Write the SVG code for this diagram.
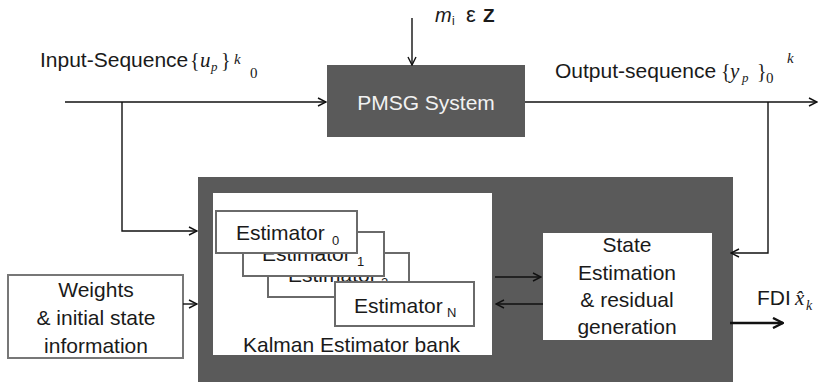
<svg xmlns="http://www.w3.org/2000/svg" width="818" height="385" viewBox="0 0 818 385">
  <style>
    .lbl { font-family: "Liberation Sans", Arial, sans-serif; font-size: 21px; fill: #1a1a1a; }
    .sub { font-size: 13px; }
    .mid { text-anchor: middle; }
    .math { font-family: "Liberation Serif", "Times New Roman", serif; fill: #1a1a1a; }
    .it { font-style: italic; }
    .wire { fill: none; stroke: #111; stroke-width: 1.4; }
    .block { fill: #5a5a5a; }
    .card { fill: #fff; stroke: #6a6a6a; stroke-width: 2; }
    .panel { fill: #fff; }
  </style>
  <defs>
    <marker id="arr" viewBox="0 0 10 10" refX="9" refY="5" markerWidth="10" markerHeight="10" markerUnits="userSpaceOnUse" orient="auto">
      <path d="M1,1 L9,5 L1,9" fill="none" stroke="#111" stroke-width="1.4"/>
    </marker>
    <marker id="arrBold" viewBox="0 0 12 12" refX="11" refY="6" markerWidth="12" markerHeight="12" markerUnits="userSpaceOnUse" orient="auto">
      <path d="M1,1 L11,6 L1,11" fill="none" stroke="#111" stroke-width="2.4"/>
    </marker>
  </defs>

  <rect width="818" height="385" fill="#fff"/>

  <!-- PMSG plant -->
  <g id="pmsg">
    <rect class="block" x="327" y="65" width="198" height="72"/>
    <text class="lbl mid" x="426" y="110" style="fill:#f2f2f2">PMSG System</text>
  </g>

  <!-- fault mode input label -->
  <g id="mode-label">
    <text class="lbl it" x="435" y="22" style="font-size:20px">m</text>
    <text class="lbl" x="452" y="25" style="font-size:12px">i</text>
    <text class="lbl" x="466" y="22" style="font-size:22px">ε</text>
    <text class="lbl" x="483" y="22" style="font-size:19px;font-weight:bold">Z</text>
  </g>

  <!-- input sequence label -->
  <g id="input-label">
    <text class="lbl" x="40" y="67">Input-Sequence</text>
    <text class="math" x="190" y="67" font-size="20">{</text>
    <text class="math it" x="200" y="67" font-size="21">u</text>
    <text class="math it" x="211" y="71" font-size="13">p</text>
    <text class="math" x="221" y="67" font-size="20">}</text>
    <text class="math it" x="234" y="64" font-size="15">k</text>
    <text class="math" x="250" y="78" font-size="15">0</text>
  </g>

  <!-- output sequence label -->
  <g id="output-label">
    <text class="lbl" x="555" y="78">Output-sequence</text>
    <text class="math" x="721" y="78" font-size="20">{</text>
    <text class="math it" x="730" y="78" font-size="21">y</text>
    <text class="math it" x="742" y="82" font-size="13">p</text>
    <text class="math" x="757" y="78" font-size="20">}</text>
    <text class="math" x="766" y="83" font-size="15">0</text>
    <text class="math it" x="787" y="63" font-size="15">k</text>
  </g>

  <!-- fault detection unit -->
  <g id="fdi-unit">
    <rect class="block" x="198" y="177" width="535" height="205"/>
  </g>

  <!-- Kalman estimator bank -->
  <g id="estimator-bank">
    <rect class="panel" x="213" y="193" width="279" height="162"/>
    <g id="estimator-2">
      <rect class="card" x="268" y="253" width="141" height="44"/>
      <text class="lbl" x="288" y="282">Estimator</text>
      <text class="lbl sub" x="381" y="287" style="font-size:13px">2</text>
    </g>
    <g id="estimator-n">
      <rect class="card" x="335" y="282" width="139" height="44"/>
      <text class="lbl" x="354" y="313">Estimator</text>
      <text class="lbl sub" x="447" y="317" style="font-size:13px">N</text>
    </g>
    <g id="estimator-1">
      <rect class="card" x="243" y="232" width="141" height="44"/>
      <text class="lbl" x="262" y="261">Estimator</text>
      <text class="lbl sub" x="357" y="266" style="font-size:13px">1</text>
    </g>
    <g id="estimator-0">
      <rect class="card" x="216" y="211" width="141" height="42"/>
      <text class="lbl" x="236" y="240">Estimator</text>
      <text class="lbl sub" x="332" y="245" style="font-size:13px">0</text>
    </g>
    <text class="lbl" x="243" y="352">Kalman Estimator bank</text>
  </g>

  <!-- state estimation and residual generation -->
  <g id="residual-gen">
    <rect class="panel" x="543" y="233" width="169" height="107"/>
    <text class="lbl mid" x="627" y="252">State</text>
    <text class="lbl mid" x="627" y="280">Estimation</text>
    <text class="lbl mid" x="627" y="307">&amp; residual</text>
    <text class="lbl mid" x="627" y="334">generation</text>
  </g>

  <!-- weights and initial state -->
  <g id="weights">
    <rect x="8" y="275" width="175" height="83" fill="#fff" stroke="#777" stroke-width="2"/>
    <text class="lbl mid" x="96" y="297">Weights</text>
    <text class="lbl mid" x="96" y="325">&amp; initial state</text>
    <text class="lbl mid" x="96" y="353">information</text>
  </g>

  <!-- FDI output label -->
  <g id="fdi-label">
    <text class="lbl" x="757" y="305">FDI</text>
    <text class="math it" x="795" y="305" font-size="21">x̂</text>
    <text class="math it" x="806" y="310" font-size="14">k</text>
  </g>

  <!-- connectors -->
  <g id="connectors">
    <line class="wire" x1="412" y1="18" x2="412" y2="65" marker-end="url(#arr)"/>
    <line class="wire" x1="65" y1="102" x2="326" y2="102" marker-end="url(#arr)"/>
    <polyline class="wire" points="122,102 122,231 197,231" marker-end="url(#arr)"/>
    <line class="wire" x1="525" y1="102" x2="817" y2="102" marker-end="url(#arr)"/>
    <polyline class="wire" points="768,102 768,253 731,253" marker-end="url(#arr)"/>
    <line class="wire" x1="183" y1="304" x2="197" y2="304" marker-end="url(#arr)"/>
    <line class="wire" x1="495" y1="277" x2="541" y2="277" marker-end="url(#arr)"/>
    <line class="wire" x1="543" y1="304" x2="496" y2="304" marker-end="url(#arr)"/>
    <line x1="730" y1="323" x2="783" y2="323" stroke="#111" stroke-width="2.6" marker-end="url(#arrBold)"/>
  </g>
</svg>
